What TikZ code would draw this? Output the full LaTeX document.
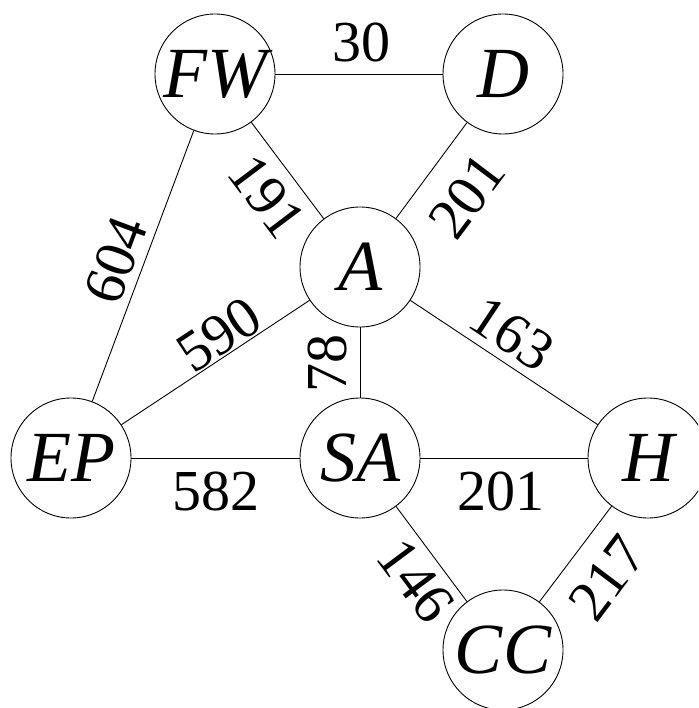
\documentclass[tikz,border=0pt]{standalone}
\usepackage{fontspec}
\setmainfont{Liberation Serif}
\begin{document}
\begin{tikzpicture}[x=1pt,y=-1pt,
  city/.style={circle,draw,line width=0.9pt,minimum size=120pt,inner sep=0pt,
    font=\fontsize{72}{72}\selectfont\itshape},
  elab/.style={inner sep=0pt,font=\fontsize{58}{58}\selectfont},
  road/.style={line width=0.9pt}]
\useasboundingbox (0,0) rectangle (698,708);
\clip (0,0) rectangle (698,708);
\node[city] (FW) at (215,74) {FW};
\node[city] (D) at (503,74) {D};
\node[city] (A) at (360,267) {A};
\node[city] (EP) at (71,458) {EP};
\node[city] (SA) at (360,458) {SA};
\node[city] (H) at (648,458) {H};
\node[city] (CC) at (503,650) {CC};
\draw[road] (FW) -- (D);
\draw[road] (FW) -- (A);
\draw[road] (D) -- (A);
\draw[road] (FW) -- (EP);
\draw[road] (EP) -- (A);
\draw[road] (A) -- (SA);
\draw[road] (A) -- (H);
\draw[road] (EP) -- (SA);
\draw[road] (SA) -- (H);
\draw[road] (SA) -- (CC);
\draw[road] (H) -- (CC);
\node[elab] (l30) at (361,43) {30};
\node[elab,rotate=-53] (l191) at (267,197) {191};
\node[elab,rotate=53] (l201a) at (467,196) {201};
\node[elab,rotate=69.4] (l604) at (116,260) {604};
\node[elab,rotate=33.4] (l590) at (219,335) {590};
\node[elab,rotate=90] (l78) at (327,363) {78};
\node[elab,rotate=-33.6] (l163) at (512,334) {163};
\node[elab] (l582) at (216,491) {582};
\node[elab] (l201b) at (501,491) {201};
\node[elab,rotate=-53.3] (l146) at (416,581) {146};
\node[elab,rotate=53] (l217) at (607,578) {217};
\end{tikzpicture}
\end{document}
